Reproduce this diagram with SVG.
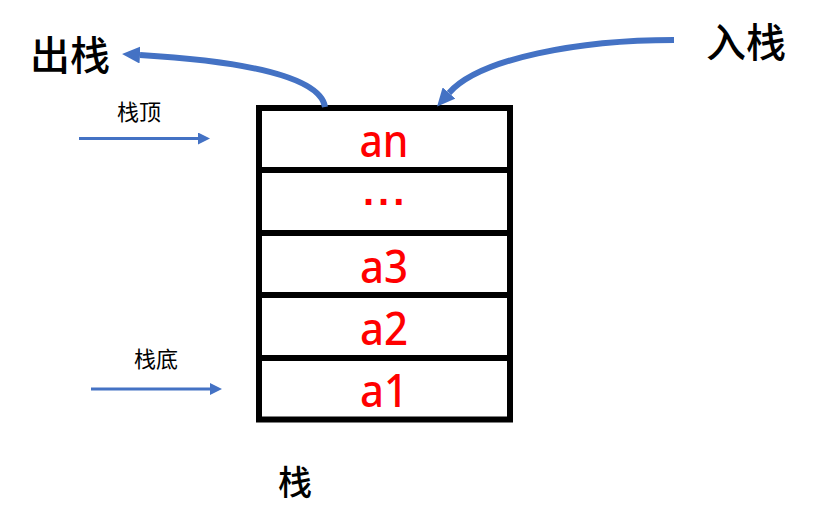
<svg xmlns="http://www.w3.org/2000/svg" width="815" height="527" viewBox="0 0 815 527">
<style>
.cell{fill:#fff;stroke:#000;stroke-width:6}
.val{font-family:"Noto Sans","Liberation Sans",sans-serif;font-size:45px;font-weight:500;fill:#FF0000;text-anchor:middle}
.dots{font-family:"Liberation Sans",Arial,sans-serif;font-size:40px;font-weight:bold;fill:#FF0000;letter-spacing:4px}
.big{font-family:"Noto Sans CJK SC",sans-serif;font-size:40px;font-weight:500;fill:#000;text-anchor:middle}
.small{font-family:"Noto Sans CJK SC",sans-serif;font-size:22px;fill:#000;text-anchor:middle}
.curve{fill:none;stroke:#4472C4;stroke-width:6}
.line{fill:none;stroke:#4472C4;stroke-width:3}
</style>
<defs>
<marker id="bigHead" markerUnits="userSpaceOnUse" viewBox="0 0 18 17" refX="0" refY="8.5" markerWidth="18" markerHeight="17" orient="auto">
<path d="M0,0 L18,8.5 L0,17 z" fill="#4472C4"/>
</marker>
<marker id="smallHead" markerUnits="userSpaceOnUse" viewBox="0 0 12 12" refX="0" refY="6" markerWidth="12" markerHeight="12" orient="auto">
<path d="M0,0 L12,6 L0,12 z" fill="#4472C4"/>
</marker>
</defs>
<rect width="815" height="527" fill="#fff"/>
<g id="stack">
<g id="cell-an"><rect class="cell" x="259" y="108" width="251" height="62"/><text class="val" x="384" y="157" textLength="49" lengthAdjust="spacingAndGlyphs">an</text></g>
<g id="cell-dots"><rect class="cell" x="259" y="170" width="251" height="63"/><text class="dots" x="363" y="205">...</text></g>
<g id="cell-a3"><rect class="cell" x="259" y="233" width="251" height="62"/><text class="val" x="384" y="283" textLength="48" lengthAdjust="spacingAndGlyphs">a3</text></g>
<g id="cell-a2"><rect class="cell" x="259" y="295" width="251" height="63"/><text class="val" x="384" y="345" textLength="48" lengthAdjust="spacingAndGlyphs">a2</text></g>
<g id="cell-a1"><rect class="cell" x="259" y="358" width="251" height="61.5"/><text class="val" x="384" y="407" textLength="48" lengthAdjust="spacingAndGlyphs">a1</text></g>
</g>
<g id="label-pop"><text class="big" x="70" y="70">出栈</text></g>
<g id="label-push"><text class="big" x="746" y="57">入栈</text></g>
<g id="label-top"><text class="small" x="139" y="120">栈顶</text></g>
<g id="label-bottom"><text class="small" x="156" y="367">栈底</text></g>
<g id="label-stack"><text class="big" x="295" y="495" style="font-size:34px">栈</text></g>
<g id="connectors">
<path class="curve" d="M325,107 C322,88 290,64 140,55" marker-end="url(#bigHead)"/>
<path class="curve" d="M674,40 C580,40 480,58 449,93" marker-end="url(#bigHead)"/>
<path class="line" d="M79,138.5 L198,138.5" marker-end="url(#smallHead)"/>
<path class="line" d="M91,389 L210,389" marker-end="url(#smallHead)"/>
</g>
</svg>
